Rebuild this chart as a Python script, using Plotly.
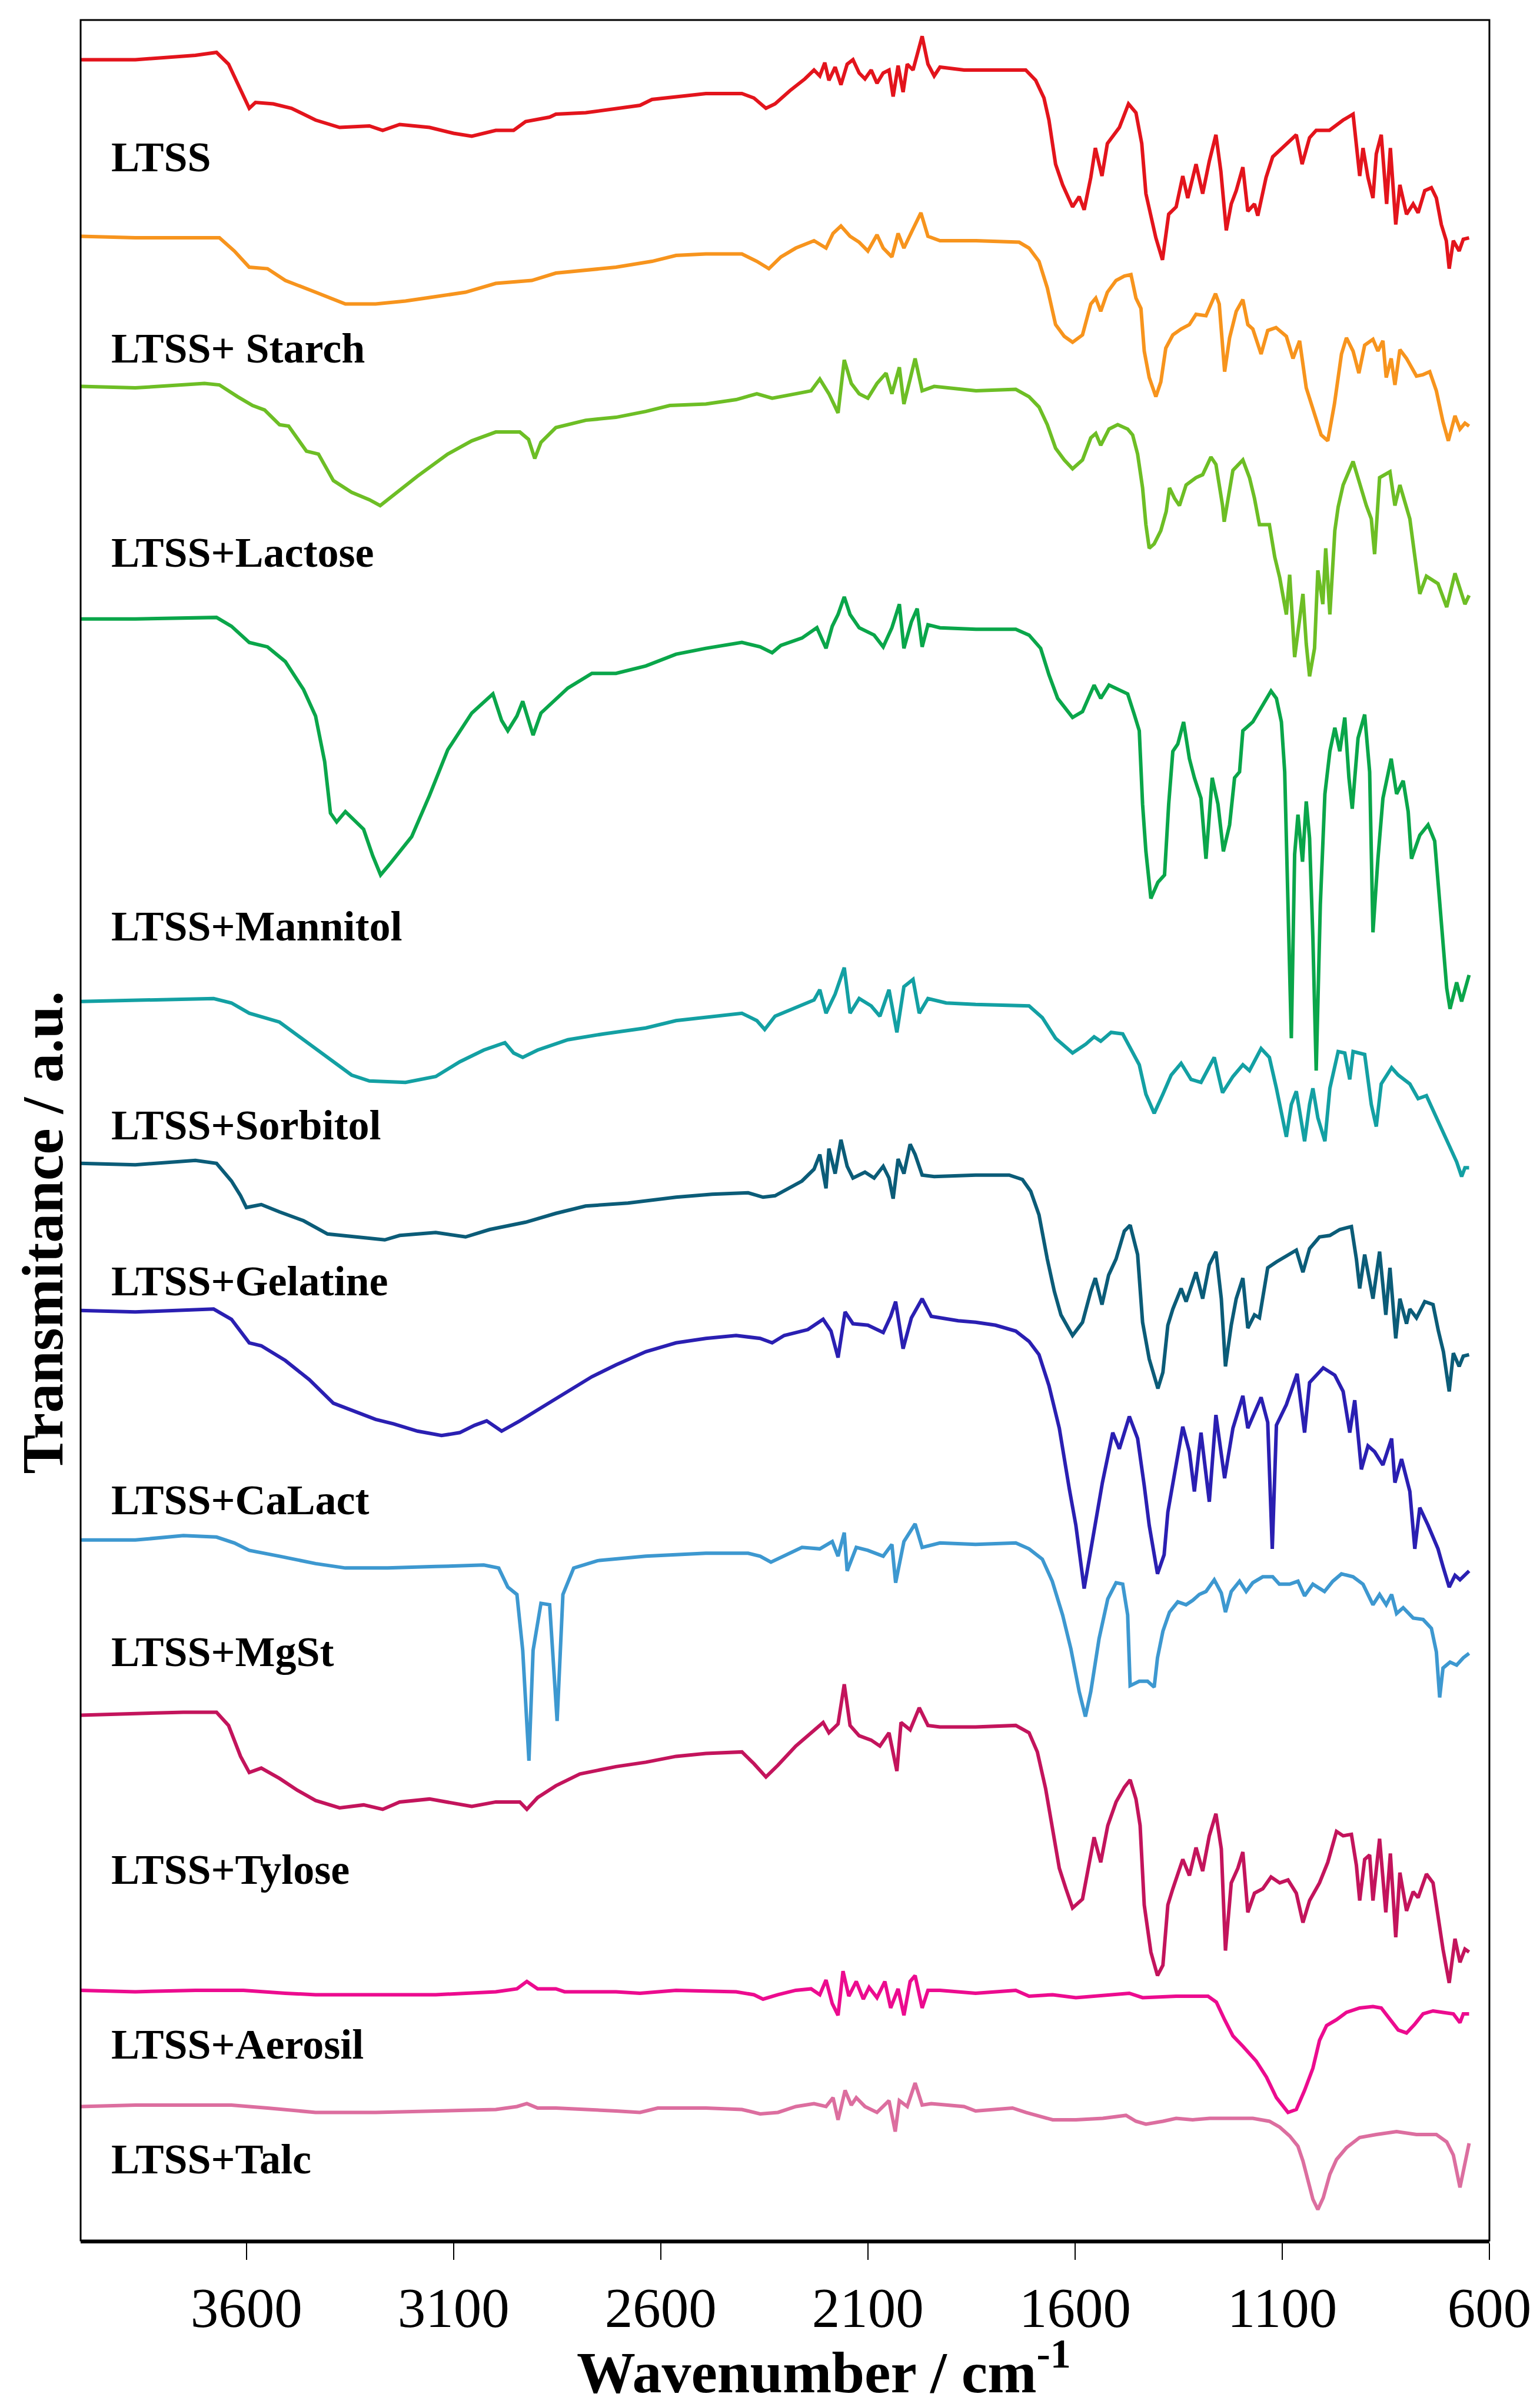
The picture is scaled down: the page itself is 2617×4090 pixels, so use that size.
import plotly.graph_objects as go

# FTIR spectra, (wavenumber cm-1, transmittance a.u. with stacking offset already applied)
ltss = [(4000,14.82),(3868,14.82),(3723,14.85),(3672,14.87),(3643,14.79),(3614,14.61),(3593,14.49),(3578,14.53),(3535,14.52),(3491,14.49),(3433,14.41),(3375,14.36),(3303,14.37),(3271,14.34),(3230,14.38),(3158,14.36),(3100,14.32),(3056,14.30),(2998,14.34),(2955,14.34),(2926,14.40),(2868,14.43),(2853,14.45),(2781,14.46),(2708,14.49),(2650,14.51),(2621,14.55),(2563,14.57),(2491,14.59),(2404,14.59),(2375,14.56),(2346,14.49),(2324,14.52),(2288,14.61),(2252,14.69),(2230,14.75),(2216,14.71),(2204,14.80),(2194,14.68),(2179,14.77),(2165,14.65),(2150,14.79),(2136,14.82),(2121,14.73),(2107,14.69),(2092,14.75),(2078,14.66),(2063,14.73),(2049,14.75),(2039,14.57),(2027,14.78),(2015,14.60),(2005,14.79),(1991,14.75),(1969,14.98),(1955,14.79),(1940,14.71),(1926,14.77),(1868,14.75),(1776,14.75),(1719,14.75),(1695,14.68),(1675,14.56),(1663,14.41),(1647,14.11),(1630,13.97),(1606,13.82),(1590,13.89),(1578,13.80),(1562,14.02),(1551,14.22),(1535,14.03),(1522,14.25),(1493,14.36),(1471,14.52),(1453,14.46),(1439,14.25),(1429,13.91),(1405,13.61),(1389,13.46),(1374,13.77),(1356,13.82),(1340,14.03),(1328,13.88),(1308,14.11),(1292,13.91),(1276,14.13),(1260,14.31),(1248,14.06),(1235,13.66),(1223,13.84),(1211,13.93),(1195,14.09),(1183,13.79),(1167,13.84),(1159,13.76),(1139,14.02),(1123,14.16),(1090,14.25),(1066,14.31),(1052,14.11),(1034,14.29),(1018,14.34),(986,14.34),(953,14.41),(929,14.45),(913,14.03),(905,14.22),(893,14.02),(881,13.88),(873,14.18),(861,14.31),(848,13.84),(839,14.22),(826,13.70),(816,13.97),(800,13.77),(784,13.84),(772,13.78),(756,13.93),(740,13.95),(728,13.88),(716,13.70),(704,13.59),(697,13.40),(687,13.59),(673,13.52),(663,13.60),(649,13.61)]

starch = [(4000,13.62),(3868,13.61),(3723,13.61),(3665,13.61),(3629,13.52),(3593,13.41),(3549,13.40),(3506,13.32),(3433,13.24),(3361,13.16),(3288,13.16),(3216,13.18),(3143,13.21),(3071,13.24),(2998,13.30),(2911,13.32),(2853,13.37),(2708,13.41),(2621,13.45),(2563,13.49),(2491,13.50),(2404,13.50),(2368,13.45),(2339,13.40),(2310,13.48),(2274,13.54),(2230,13.59),(2201,13.54),(2184,13.64),(2165,13.69),(2143,13.62),(2121,13.58),(2100,13.52),(2078,13.63),(2063,13.54),(2042,13.48),(2027,13.64),(2013,13.54),(1991,13.67),(1972,13.78),(1955,13.62),(1926,13.59),(1839,13.59),(1735,13.58),(1711,13.54),(1687,13.45),(1667,13.27),(1647,13.02),(1626,12.94),(1606,12.90),(1582,12.95),(1562,13.16),(1550,13.20),(1538,13.11),(1522,13.24),(1501,13.32),(1481,13.35),(1465,13.36),(1453,13.20),(1441,13.13),(1433,12.84),(1421,12.66),(1405,12.53),(1393,12.63),(1381,12.86),(1364,12.95),(1344,12.99),(1324,13.02),(1308,13.09),(1284,13.08),(1261,13.23),(1252,13.16),(1239,12.70),(1227,12.93),(1211,13.11),(1195,13.19),(1183,13.02),(1171,12.99),(1151,12.82),(1135,12.98),(1115,13.00),(1090,12.94),(1074,12.79),(1058,12.91),(1042,12.59),(1026,12.45),(1006,12.27),(990,12.23),(974,12.48),(957,12.82),(945,12.93),(929,12.84),(915,12.69),(901,12.88),(881,12.92),(869,12.84),(857,12.91),(849,12.66),(837,12.79),(828,12.61),(816,12.85),(800,12.79),(776,12.67),(760,12.68),(744,12.70),(728,12.57),(712,12.36),(699,12.23),(683,12.40),(671,12.31),(659,12.35),(649,12.33)]

lactose = [(4000,12.60),(3868,12.59),(3701,12.62),(3665,12.61),(3621,12.53),(3585,12.47),(3556,12.44),(3520,12.34),(3498,12.33),(3455,12.16),(3426,12.14),(3390,11.96),(3346,11.88),(3303,11.83),(3277,11.79),(3245,11.86),(3187,11.99),(3114,12.14),(3056,12.23),(2998,12.29),(2940,12.29),(2919,12.24),(2904,12.11),(2889,12.22),(2853,12.32),(2781,12.37),(2708,12.39),(2636,12.43),(2578,12.47),(2491,12.48),(2418,12.51),(2368,12.55),(2331,12.52),(2274,12.55),(2237,12.57),(2216,12.65),(2194,12.55),(2172,12.42),(2157,12.78),(2140,12.62),(2121,12.55),(2100,12.52),(2078,12.62),(2056,12.69),(2042,12.55),(2024,12.73),(2013,12.48),(1998,12.65),(1986,12.79),(1969,12.57),(1940,12.60),(1839,12.57),(1743,12.58),(1711,12.53),(1687,12.46),(1667,12.34),(1647,12.18),(1626,12.10),(1606,12.04),(1582,12.10),(1562,12.25),(1550,12.28),(1538,12.20),(1518,12.31),(1497,12.34),(1473,12.31),(1461,12.27),(1449,12.14),(1437,11.91),(1429,11.66),(1421,11.50),(1409,11.53),(1393,11.62),(1380,11.75),(1372,11.91),(1360,11.84),(1348,11.79),(1332,11.93),(1308,11.98),(1292,12.00),(1272,12.12),(1260,12.07),(1244,11.79),(1240,11.68),(1219,12.03),(1195,12.10),(1179,11.98),(1167,11.84),(1155,11.66),(1147,11.66),(1131,11.66),(1118,11.44),(1106,11.30),(1090,11.05),(1082,11.32),(1070,10.76),(1058,11.03),(1050,11.19),(1042,10.85),(1034,10.63),(1022,10.82),(1014,11.35),(1002,11.12),(995,11.50),(985,11.05),(973,11.62),(965,11.78),(953,11.93),(929,12.09),(913,11.93),(897,11.79),(885,11.70),(877,11.46),(865,11.98),(840,12.02),(828,11.79),(816,11.93),(792,11.70),(784,11.53),(768,11.19),(752,11.31),(724,11.26),(703,11.10),(683,11.33),(659,11.12),(649,11.18)]

mannitol = [(4000,11.02),(3868,11.02),(3672,11.03),(3636,10.97),(3593,10.86),(3549,10.83),(3506,10.73),(3462,10.54),(3433,10.36),(3411,10.05),(3397,9.70),(3382,9.64),(3361,9.71),(3317,9.59),(3295,9.41),(3276,9.28),(3252,9.36),(3201,9.54),(3158,9.82),(3114,10.13),(3056,10.38),(3005,10.51),(2984,10.33),(2969,10.26),(2947,10.36),(2933,10.46),(2908,10.23),(2889,10.38),(2824,10.55),(2766,10.65),(2708,10.65),(2636,10.70),(2563,10.78),(2491,10.82),(2404,10.86),(2360,10.83),(2331,10.79),(2310,10.84),(2259,10.89),(2223,10.96),(2201,10.82),(2186,10.97),(2172,11.05),(2157,11.17),(2143,11.05),(2121,10.96),(2085,10.91),(2063,10.83),(2042,10.96),(2024,11.12),(2013,10.82),(1995,11.00),(1981,11.09),(1969,10.83),(1955,10.98),(1926,10.96),(1839,10.95),(1743,10.95),(1711,10.91),(1683,10.82),(1663,10.64),(1642,10.48),(1606,10.35),(1582,10.39),(1554,10.57),(1538,10.48),(1518,10.57),(1493,10.54),(1473,10.51),(1457,10.37),(1445,10.26),(1437,9.76),(1429,9.44),(1417,9.12),(1400,9.23),(1384,9.28),(1374,9.76),(1364,10.12),(1352,10.17),(1338,10.32),(1324,10.07),(1312,9.94),(1296,9.80),(1284,9.39),(1269,9.94),(1255,9.76),(1242,9.44),(1227,9.62),(1215,9.94),(1203,9.98),(1195,10.26),(1171,10.32),(1151,10.42),(1127,10.53),(1114,10.48),(1102,10.32),(1094,9.98),(1086,9.08),(1078,8.17),(1070,9.42),(1062,9.69),(1051,9.37),(1042,9.78),(1034,9.53),(1026,8.85),(1018,7.95),(1008,9.08),(997,9.83),(985,10.12),(973,10.28),(961,10.12),(949,10.35),(939,9.94),(931,9.73),(917,10.21),(901,10.37),(889,9.98),(881,8.89),(869,9.39),(857,9.80),(837,10.07),(824,9.83),(808,9.92),(796,9.71),(788,9.39),(768,9.55),(748,9.62),(732,9.51),(720,9.08),(703,8.51),(695,8.37),(679,8.55),(667,8.42),(649,8.60)]

sorbitol = [(4000,8.42),(3868,8.43),(3679,8.44),(3636,8.41),(3593,8.34),(3520,8.28),(3462,8.16),(3404,8.04),(3346,7.92),(3303,7.88),(3216,7.87),(3143,7.91),(3085,8.01),(3027,8.09),(2976,8.14),(2955,8.07),(2933,8.04),(2897,8.09),(2824,8.16),(2737,8.20),(2636,8.24),(2563,8.29),(2476,8.32),(2404,8.34),(2368,8.29),(2349,8.23),(2324,8.32),(2274,8.38),(2230,8.43),(2216,8.50),(2201,8.34),(2179,8.47),(2157,8.65),(2143,8.34),(2121,8.44),(2092,8.39),(2071,8.32),(2049,8.50),(2030,8.21),(2013,8.52),(1991,8.57),(1976,8.34),(1955,8.44),(1911,8.41),(1840,8.40),(1711,8.39),(1679,8.31),(1647,8.17),(1606,8.07),(1574,8.13),(1554,8.18),(1538,8.15),(1513,8.21),(1485,8.20),(1461,8.08),(1445,7.99),(1429,7.79),(1409,7.66),(1388,7.79),(1368,7.92),(1344,8.00),(1320,7.89),(1296,7.87),(1264,8.04),(1244,7.80),(1219,7.91),(1195,7.99),(1179,7.95),(1151,8.10),(1131,8.04),(1114,7.83),(1102,7.65),(1090,7.50),(1078,7.72),(1066,7.81),(1046,7.47),(1034,7.72),(1026,7.83),(1014,7.63),(997,7.47),(985,7.83),(965,8.08),(949,8.07),(937,7.89),(929,8.08),(901,8.06),(885,7.72),(873,7.57),(861,7.86),(836,7.97),(820,7.92),(792,7.86),(772,7.76),(752,7.78),(728,7.63),(703,7.47),(679,7.33),(667,7.23),(659,7.29),(649,7.29)]

gelatine = [(4000,7.32),(3868,7.31),(3723,7.34),(3672,7.32),(3636,7.20),(3614,7.10),(3600,7.02),(3564,7.04),(3520,6.99),(3462,6.93),(3404,6.84),(3332,6.82),(3266,6.80),(3230,6.83),(3143,6.85),(3071,6.82),(3013,6.87),(2926,6.92),(2853,6.98),(2781,7.03),(2679,7.05),(2563,7.09),(2476,7.11),(2389,7.12),(2353,7.09),(2324,7.10),(2290,7.15),(2259,7.20),(2230,7.28),(2216,7.38),(2201,7.15),(2194,7.42),(2179,7.25),(2165,7.48),(2150,7.30),(2136,7.22),(2107,7.26),(2085,7.22),(2063,7.30),(2049,7.22),(2039,7.08),(2027,7.35),(2013,7.25),(1998,7.45),(1986,7.38),(1969,7.24),(1940,7.23),(1840,7.24),(1759,7.24),(1727,7.21),(1707,7.13),(1687,6.97),(1667,6.67),(1650,6.45),(1634,6.29),(1606,6.15),(1582,6.24),(1562,6.45),(1551,6.54),(1535,6.36),(1519,6.56),(1501,6.67),(1481,6.86),(1467,6.90),(1449,6.70),(1437,6.24),(1421,5.99),(1400,5.79),(1388,5.90),(1376,6.22),(1364,6.33),(1344,6.47),(1332,6.38),(1308,6.58),(1292,6.40),(1276,6.63),(1260,6.72),(1247,6.40),(1237,5.94),(1223,6.22),(1211,6.40),(1195,6.54),(1183,6.20),(1167,6.29),(1155,6.27),(1135,6.61),(1114,6.65),(1090,6.69),(1066,6.73),(1050,6.58),(1034,6.74),(1010,6.82),(985,6.83),(961,6.87),(933,6.89),(921,6.67),(913,6.47),(901,6.70),(881,6.40),(865,6.72),(850,6.29),(840,6.61),(826,6.13),(816,6.40),(800,6.23),(792,6.33),(776,6.27),(756,6.38),(736,6.36),(723,6.18),(711,6.04),(697,5.77),(687,6.03),(673,5.94),(663,6.01),(649,6.02)]

calact = [(4000,6.32),(3868,6.31),(3679,6.33),(3636,6.26),(3593,6.10),(3564,6.08),(3506,5.98),(3448,5.85),(3390,5.69),(3346,5.64),(3288,5.58),(3245,5.55),(3187,5.50),(3129,5.47),(3085,5.49),(3049,5.54),(3020,5.57),(2984,5.50),(2940,5.57),(2882,5.67),(2824,5.77),(2766,5.87),(2708,5.95),(2636,6.04),(2563,6.10),(2491,6.13),(2418,6.15),(2360,6.13),(2331,6.10),(2302,6.15),(2245,6.19),(2208,6.26),(2189,6.18),(2172,6.00),(2155,6.31),(2136,6.23),(2100,6.22),(2063,6.17),(2045,6.28),(2033,6.38),(2015,6.06),(1995,6.27),(1969,6.40),(1947,6.28),(1882,6.25),(1840,6.24),(1792,6.22),(1743,6.18),(1711,6.11),(1687,6.02),(1663,5.81),(1638,5.52),(1614,5.11),(1598,4.86),(1578,4.43),(1562,4.70),(1546,4.98),(1534,5.15),(1509,5.49),(1493,5.38),(1469,5.60),(1449,5.45),(1433,5.13),(1421,4.86),(1401,4.53),(1385,4.66),(1376,4.95),(1364,5.15),(1340,5.53),(1324,5.36),(1312,5.09),(1296,5.49),(1276,5.02),(1260,5.61),(1239,5.18),(1219,5.52),(1195,5.74),(1183,5.52),(1167,5.63),(1151,5.73),(1135,5.56),(1127,4.86),(1124,4.70),(1114,5.54),(1090,5.68),(1064,5.89),(1046,5.49),(1034,5.83),(1001,5.93),(973,5.88),(953,5.77),(937,5.49),(925,5.71),(909,5.24),(893,5.40),(877,5.36),(857,5.27),(836,5.45),(828,5.15),(812,5.31),(792,5.09),(780,4.70),(768,4.98),(748,4.86),(724,4.70),(712,4.58),(697,4.44),(683,4.52),(671,4.49),(649,4.55)]

mgst = [(4000,4.76),(3868,4.76),(3752,4.79),(3672,4.78),(3629,4.74),(3593,4.69),(3520,4.65),(3433,4.60),(3361,4.57),(3259,4.57),(3143,4.58),(3027,4.59),(2991,4.57),(2969,4.44),(2947,4.39),(2933,4.01),(2918,3.26),(2908,4.01),(2889,4.33),(2868,4.32),(2850,3.53),(2836,4.39),(2810,4.57),(2752,4.62),(2636,4.65),(2491,4.67),(2389,4.67),(2360,4.65),(2334,4.61),(2288,4.67),(2259,4.71),(2216,4.70),(2186,4.75),(2172,4.65),(2157,4.81),(2150,4.55),(2128,4.71),(2100,4.69),(2063,4.65),(2042,4.73),(2033,4.47),(2013,4.75),(1986,4.87),(1969,4.71),(1926,4.74),(1840,4.73),(1743,4.74),(1711,4.70),(1679,4.63),(1655,4.48),(1630,4.25),(1610,4.02),(1590,3.73),(1575,3.56),(1562,3.73),(1542,4.09),(1521,4.36),(1501,4.47),(1485,4.46),(1473,4.25),(1467,3.77),(1445,3.80),(1425,3.80),(1409,3.76),(1401,3.96),(1388,4.14),(1372,4.27),(1352,4.34),(1332,4.32),(1316,4.35),(1300,4.39),(1284,4.41),(1264,4.49),(1247,4.40),(1237,4.27),(1223,4.41),(1203,4.48),(1187,4.41),(1171,4.47),(1147,4.51),(1123,4.51),(1107,4.46),(1082,4.46),(1062,4.48),(1046,4.38),(1026,4.46),(998,4.41),(978,4.48),(957,4.53),(929,4.51),(905,4.46),(881,4.32),(865,4.39),(849,4.32),(836,4.39),(824,4.26),(808,4.30),(784,4.23),(760,4.22),(740,4.16),(728,4.00),(720,3.69),(712,3.89),(695,3.93),(679,3.91),(663,3.96),(649,3.99)]

tylose = [(4000,3.57),(3868,3.58),(3752,3.59),(3672,3.59),(3643,3.50),(3614,3.29),(3593,3.18),(3564,3.21),(3520,3.14),(3477,3.06),(3433,2.99),(3375,2.94),(3317,2.96),(3271,2.93),(3230,2.98),(3158,3.00),(3100,2.97),(3056,2.95),(2998,2.98),(2940,2.98),(2923,2.93),(2897,3.01),(2853,3.09),(2795,3.17),(2708,3.22),(2636,3.25),(2563,3.29),(2491,3.31),(2404,3.32),(2375,3.24),(2346,3.15),(2317,3.23),(2274,3.36),(2237,3.45),(2208,3.52),(2194,3.45),(2172,3.51),(2157,3.78),(2143,3.50),(2121,3.43),(2092,3.40),(2071,3.36),(2049,3.45),(2030,3.19),(2020,3.52),(1998,3.47),(1976,3.62),(1955,3.50),(1926,3.49),(1840,3.49),(1743,3.50),(1711,3.45),(1691,3.32),(1671,3.07),(1655,2.82),(1638,2.53),(1622,2.39),(1606,2.26),(1582,2.32),(1566,2.55),(1554,2.74),(1538,2.57),(1521,2.82),(1501,2.98),(1481,3.08),(1467,3.13),(1453,3.00),(1443,2.82),(1433,2.28),(1417,1.96),(1401,1.80),(1388,1.87),(1376,2.28),(1364,2.39),(1340,2.59),(1324,2.48),(1308,2.67),(1292,2.51),(1276,2.75),(1260,2.90),(1247,2.66),(1237,1.97),(1223,2.43),(1207,2.53),(1195,2.64),(1183,2.23),(1167,2.36),(1147,2.39),(1127,2.47),(1106,2.43),(1086,2.45),(1066,2.36),(1050,2.16),(1034,2.31),(1010,2.43),(990,2.57),(969,2.78),(953,2.75),(933,2.76),(921,2.55),(913,2.31),(901,2.59),(889,2.62),(881,2.31),(865,2.73),(850,2.23),(839,2.63),(826,2.06),(816,2.50),(800,2.24),(784,2.37),(772,2.33),(752,2.49),(736,2.43),(724,2.19),(712,1.98),(697,1.75),(683,2.05),(671,1.89),(659,1.98),(649,1.96)]

aerosil = [(4000,1.70),(3868,1.69),(3723,1.70),(3607,1.70),(3506,1.68),(3433,1.67),(3288,1.67),(3143,1.67),(2998,1.69),(2947,1.71),(2923,1.76),(2897,1.71),(2853,1.71),(2832,1.69),(2708,1.69),(2650,1.68),(2563,1.70),(2418,1.69),(2375,1.67),(2353,1.64),(2317,1.67),(2274,1.70),(2237,1.71),(2216,1.67),(2201,1.77),(2186,1.61),(2172,1.53),(2160,1.83),(2146,1.66),(2128,1.76),(2111,1.64),(2097,1.72),(2078,1.65),(2059,1.76),(2045,1.58),(2027,1.71),(2013,1.53),(1998,1.76),(1986,1.80),(1969,1.58),(1955,1.70),(1926,1.70),(1840,1.68),(1743,1.70),(1711,1.66),(1654,1.67),(1598,1.65),(1517,1.67),(1469,1.68),(1437,1.65),(1356,1.66),(1279,1.66),(1259,1.62),(1239,1.50),(1219,1.39),(1195,1.32),(1163,1.22),(1138,1.11),(1114,0.97),(1086,0.87),(1066,0.89),(1046,1.02),(1026,1.17),(1010,1.36),(993,1.46),(969,1.50),(945,1.55),(913,1.58),(881,1.59),(861,1.58),(840,1.50),(820,1.43),(800,1.41),(780,1.47),(760,1.54),(736,1.56),(712,1.55),(687,1.54),(671,1.48),(663,1.54),(649,1.54)]

talc = [(4000,0.91),(3868,0.92),(3723,0.92),(3636,0.92),(3549,0.90),(3433,0.87),(3288,0.87),(3143,0.88),(2998,0.89),(2947,0.91),(2923,0.93),(2897,0.90),(2853,0.90),(2708,0.88),(2650,0.87),(2607,0.90),(2491,0.90),(2404,0.89),(2360,0.86),(2317,0.87),(2274,0.91),(2230,0.93),(2201,0.91),(2184,0.97),(2172,0.82),(2155,1.02),(2140,0.92),(2128,0.97),(2107,0.91),(2078,0.87),(2049,0.95),(2034,0.74),(2024,0.95),(2005,0.91),(1986,1.07),(1969,0.92),(1947,0.93),(1868,0.91),(1840,0.88),(1751,0.90),(1719,0.87),(1654,0.82),(1598,0.82),(1533,0.83),(1477,0.85),(1453,0.81),(1429,0.79),(1388,0.81),(1356,0.83),(1316,0.82),(1275,0.83),(1227,0.83),(1171,0.83),(1131,0.81),(1106,0.77),(1082,0.71),(1062,0.64),(1050,0.54),(1038,0.40),(1026,0.28),(1014,0.21),(1001,0.29),(985,0.45),(969,0.55),(945,0.63),(913,0.70),(873,0.72),(824,0.74),(776,0.72),(728,0.72),(703,0.67),(687,0.58),(671,0.36),(661,0.49),(649,0.66)]

names = ["LTSS", "LTSS+ Starch", "LTSS+Lactose", "LTSS+Mannitol", "LTSS+Sorbitol",
         "LTSS+Gelatine", "LTSS+CaLact", "LTSS+MgSt", "LTSS+Tylose", "LTSS+Aerosil", "LTSS+Talc"]
spectra = [ltss, starch, lactose, mannitol, sorbitol, gelatine, calact, mgst, tylose, aerosil, talc]
colors = ["#e3141c", "#f7941d", "#6dbe25", "#0aa64a", "#13a0a3", "#0b5c78",
          "#2a1fb2", "#3d98d0", "#c3145c", "#ec0b8f", "#dc6e9f"]
# label heights (a.u.) beside each spectrum
label_y = [14.16, 12.86, 11.47, 8.93, 7.58, 6.52, 5.03, 4.00, 2.52, 1.33, 0.55]
xticks = [3600, 3100, 2600, 2100, 1600, 1100, 600]

serif = "Liberation Serif, Times New Roman, serif"

fig = go.Figure()
for name, spec, col in zip(names, spectra, colors):
    wn = [p[0] for p in spec]
    tr = [p[1] for p in spec]
    fig.add_trace(go.Scatter(x=wn, y=tr, mode="lines", name=name,
                             line=dict(color=col, width=6)))

for name, ly in zip(names, label_y):
    fig.add_annotation(x=3929, y=ly, xref="x", yref="y", text="<b>%s</b>" % name,
                       showarrow=False, xanchor="left", yanchor="middle",
                       font=dict(family=serif, size=72, color="black"))

# axis titles
fig.add_annotation(x=0.5276, y=-0.0575, xref="paper", yref="paper",
                   text="<b>Wavenumber / cm<sup>-1</sup></b>", showarrow=False,
                   xanchor="center", yanchor="middle",
                   font=dict(family=serif, size=100, color="black"))
fig.add_annotation(x=-0.027, y=0.454, xref="paper", yref="paper",
                   text="<b>Transmitance / a.u.</b>", showarrow=False, textangle=-90,
                   xanchor="center", yanchor="middle",
                   font=dict(family=serif, size=100, color="black"))

# thin frame
fig.add_shape(type="rect", xref="paper", yref="paper", x0=0, y0=0, x1=1, y1=1,
              line=dict(color="black", width=3), layer="above")

fig.update_xaxes(range=[4000, 600], tickvals=xticks, ticks="outside", ticklen=28,
                 tickwidth=2, tickcolor="black", showline=True, linewidth=5,
                 linecolor="black", showgrid=False, zeroline=False,
                 tickfont=dict(family=serif, size=95, color="black"))
fig.update_yaxes(range=[0, 15.09], showticklabels=False, ticks="", showgrid=False,
                 zeroline=False, showline=False)

fig.update_layout(width=2617, height=4090, showlegend=False,
                  margin=dict(l=129, r=94, t=26, b=291),
                  plot_bgcolor="white", paper_bgcolor="white")

fig.write_html("out.html")
